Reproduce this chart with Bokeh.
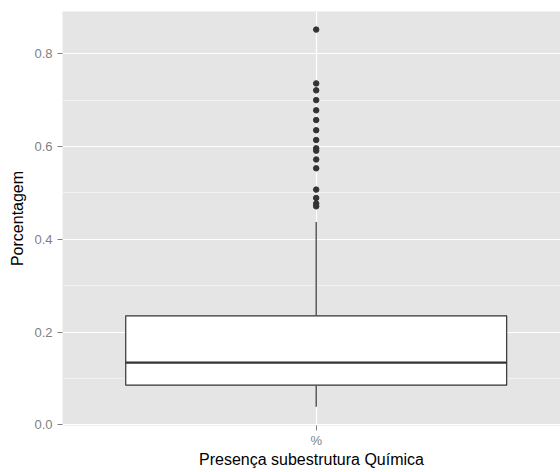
from bokeh.plotting import figure
from bokeh.models import FixedTicker
from bokeh.embed import file_html
from bokeh.resources import INLINE

# Box plot summary for the single category
category_labels = ["%"]
q1 = [0.0855]
median = [0.134]
q3 = [0.235]
whisker_low = [0.039]
whisker_high = [0.437]
outliers = [0.852, 0.736, 0.721, 0.700, 0.678, 0.657, 0.635, 0.614,
            0.596, 0.591, 0.572, 0.553, 0.507, 0.489, 0.477, 0.471]

y_ticks = [0.0, 0.2, 0.4, 0.6, 0.8]
y_minor = [0.1, 0.3, 0.5, 0.7]

pos = [1.0]
box_w = 0.75
half = box_w / 2
font = "Liberation Sans"
ink = "#333333"

p = figure(width=560, height=472, output_backend="svg", toolbar_location=None,
           x_range=(0.5005, 1.481), y_range=(-0.0015, 0.891),
           min_border_left=62, min_border_right=0, min_border_top=11,
           min_border_bottom=47)
p.background_fill_color = "#E5E5E5"
p.border_fill_color = "white"
p.outline_line_color = None

# whiskers
p.segment(x0=pos, x1=pos, y0=q3, y1=whisker_high, line_color=ink, line_width=1.2)
p.segment(x0=pos, x1=pos, y0=whisker_low, y1=q1, line_color=ink, line_width=1.2)
# box
p.vbar(x=pos, width=box_w, bottom=q1, top=q3, fill_color="white",
       line_color=ink, line_width=1.2)
# median
p.segment(x0=[x - half for x in pos], x1=[x + half for x in pos],
          y0=median, y1=median, line_color=ink, line_width=2.2)
# outliers
p.scatter(x=pos * len(outliers), y=outliers, size=5.5, color=ink)

# axes
p.xaxis.ticker = FixedTicker(ticks=pos)
p.xaxis.major_label_overrides = {pos[0]: category_labels[0]}
p.yaxis.ticker = FixedTicker(ticks=y_ticks, minor_ticks=y_minor)
p.yaxis.major_label_overrides = {t: f"{t:.1f}" for t in y_ticks}

for ax in (p.xaxis[0], p.yaxis[0]):
    ax.axis_line_color = None
    ax.major_tick_line_color = "#7f7f7f"
    ax.major_tick_in = 0
    ax.major_tick_out = 5
    ax.minor_tick_line_color = None
    ax.major_label_text_color = "#7f7f7f"
    ax.major_label_text_font = font
    ax.major_label_text_font_size = "13px"
    ax.axis_label_text_font = font
    ax.axis_label_text_font_size = "16px"
    ax.axis_label_text_font_style = "normal"
    ax.axis_label_text_color = "black"

p.xaxis.axis_label = "Presença subestrutura Química"
p.yaxis.axis_label = "Porcentagem"
p.xaxis.major_label_standoff = 2
p.xaxis.axis_label_standoff = 0
p.yaxis.major_label_standoff = 5
p.yaxis.axis_label_standoff = 5

# grid
p.xgrid.grid_line_color = "white"
p.xgrid.grid_line_width = 1.2
p.ygrid.grid_line_color = "white"
p.ygrid.grid_line_width = 1.2
p.ygrid.minor_grid_line_color = "#F2F2F2"
p.ygrid.minor_grid_line_width = 1

open("out.html", "w").write(file_html(p, INLINE))
